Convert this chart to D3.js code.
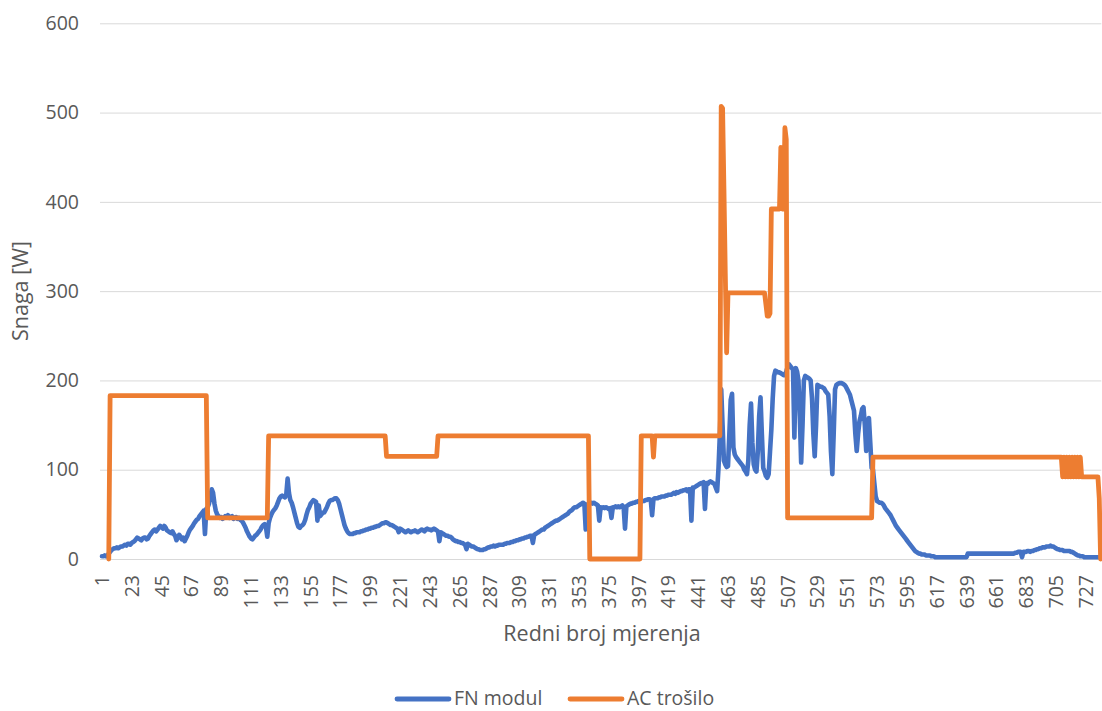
<!DOCTYPE html>
<html>
<head>
<meta charset="utf-8">
<script src="https://cdn.jsdelivr.net/npm/d3@7"></script>
<style>
  html, body { margin: 0; padding: 0; background: #ffffff; }
  svg { display: block; }
  text { font-family: "Open Sans", "Noto Sans", sans-serif; fill: #595959; }
</style>
</head>
<body>
<svg id="chart" width="1102" height="711"></svg>
<script>
// ---------- DATA ----------
const seriesNames = ["FN modul", "AC trošilo"];
const seriesColors = ["#4472C4", "#ED7D31"];

// FN modul (W), one value per measurement 1..738
const fnModul = [
  3,3,4,3,4,6,8,10,11,12,
  12,13,12,13,14,14,15,16,15,17,
  17,16,18,19,20,22,24,23,22,21,
  23,24,24,22,23,26,28,30,32,33,
  31,33,35,37,36,34,37,35,32,31,
  30,29,31,28,26,21,24,27,25,22,
  24,20,23,26,30,33,35,37,40,42,
  44,45,48,50,52,54,28,56,58,62,
  70,78,74,62,54,50,48,46,47,45,
  46,48,47,49,46,47,48,45,46,47,
  45,46,44,43,41,38,35,31,28,25,
  23,22,24,26,27,29,31,33,36,38,
  39,36,25,40,46,50,53,55,57,60,
  64,68,70,71,70,69,72,90,74,66,
  63,58,52,46,40,36,35,37,38,40,
  44,50,55,58,62,64,66,65,64,43,
  60,48,50,52,52,55,58,62,65,66,
  66,67,68,68,66,62,56,50,44,38,
  34,31,29,28,28,28,29,29,30,30,
  30,31,31,32,32,33,33,34,34,35,
  35,36,36,37,37,38,39,40,40,41,
  41,40,39,38,38,37,36,35,34,30,
  34,33,32,31,30,31,32,31,30,31,
  31,32,31,30,31,32,33,32,31,33,
  34,33,33,32,33,34,33,32,31,20,
  30,29,28,27,26,26,25,25,24,22,
  21,20,20,19,19,18,18,17,16,11,
  17,16,15,14,14,13,12,11,11,10,
  10,10,11,11,12,13,13,14,14,15,
  14,15,15,16,16,16,16,17,17,18,
  18,18,19,19,20,20,21,21,22,22,
  23,23,24,24,25,25,26,26,18,27,
  28,29,30,31,32,33,33,35,36,37,
  38,39,40,41,42,43,43,44,45,46,
  47,48,49,50,51,53,54,55,57,58,
  58,59,60,61,62,63,62,33,60,62,
  63,63,62,63,62,61,60,43,58,57,
  58,57,58,57,56,57,46,58,58,59,
  58,59,58,59,60,58,34,59,60,61,
  62,62,63,63,64,64,65,65,64,65,
  65,66,66,67,67,66,49,67,68,68,
  68,69,69,70,70,70,71,71,72,72,
  72,73,74,73,75,74,75,76,76,77,
  77,78,76,78,78,43,80,80,81,82,
  83,84,85,85,86,56,85,84,86,87,
  86,85,84,80,76,102,140,190,150,110,
  106,103,104,140,178,185,125,117,114,112,
  110,108,106,104,100,98,95,110,150,174,
  130,106,100,98,120,160,181,140,102,98,
  93,91,95,120,145,180,205,211,210,209,
  209,208,207,206,206,210,215,218,216,214,
  212,136,214,210,200,160,108,150,200,205,
  204,203,202,200,180,140,115,150,195,194,
  193,193,192,191,188,186,184,160,120,95,
  140,190,195,196,197,197,197,196,195,193,
  190,187,184,178,172,166,140,121,140,154,
  160,168,170,150,121,140,158,130,102,100,
  85,70,65,64,63,63,62,60,57,55,
  53,51,49,46,43,40,37,35,33,31,
  29,27,25,23,21,19,17,15,13,11,
  9,8,7,6,6,5,5,5,4,4,
  4,4,3,3,3,2,2,2,2,2,
  2,2,2,2,2,2,2,2,2,2,
  2,2,2,2,2,2,2,2,2,6,
  6,6,6,6,6,6,6,6,6,6,
  6,6,6,6,6,6,6,6,6,6,
  6,6,6,6,6,6,6,6,6,6,
  6,6,6,6,7,7,8,8,8,2,
  8,8,8,9,9,8,9,9,10,10,
  11,11,12,12,13,13,13,14,14,14,
  15,14,14,13,12,11,11,10,10,10,
  9,9,9,9,9,8,8,7,6,5,
  4,4,3,3,3,2,2,2,2,2,
  2,2,2,2,2,2,2,2
];

// AC trošilo (W): stepped load, stored as runs (level, number of measurements)
const acLevels = [null, 0, 183, 46, 138, 115, 138, 0, 138, 114, 138,
  507, 505, 415, 320, 231, 298, 285, 272, 275, 392, 461, 392, 483, 470, 46, 114,
  92, 114, 92, 114, 92, 114, 92, 114, 92, 114, 92, 114, 92, 114, 92,
  92, 68, 0];
const acCounts = [5, 1, 72, 45, 87, 38, 112, 38, 9, 1, 49,
  1, 1, 1, 1, 1, 28, 1, 2, 1, 7, 1, 2, 1, 1, 63, 140,
  1, 1, 1, 1, 1, 1, 1, 1, 1, 1, 1, 1, 1, 1, 1,
  12, 1, 1];

const yTicks = [0, 100, 200, 300, 400, 500, 600];
const xTickLabels = [1, 23, 45, 67, 89, 111, 133, 155, 177, 199, 221, 243, 265, 287,
  309, 331, 353, 375, 397, 419, 441, 463, 485, 507, 529, 551, 573, 595, 617, 639,
  661, 683, 705, 727];
const xTitle = "Redni broj mjerenja";
const yTitle = "Snaga [W]";

// ---------- BUILD ----------
const acTrosilo = [];
acLevels.forEach((v, k) => { for (let j = 0; j < acCounts[k]; j++) acTrosilo.push(v); });
const categories = fnModul.map((_, i) => i + 1);

const svg = d3.select("#chart");
const plotLeft = 101.3, plotRight = 1101.3, plotTop = 23.3, plotBottom = 559;

const x = d3.scaleBand().domain(categories).range([plotLeft, plotRight]).padding(0);
const xc = c => x(c) + x.bandwidth() / 2;
const y = d3.scaleLinear().domain([0, 600]).range([plotBottom, plotTop]);

// gridlines + y labels
const yAxis = d3.axisLeft(y).tickValues(yTicks).tickSize(-(plotRight - 100)).tickPadding(21);
const gy = svg.append("g").attr("transform", "translate(100,0)").call(yAxis);
gy.select(".domain").remove();
gy.selectAll(".tick line").attr("stroke", "#d9d9d9").attr("stroke-width", 1);
gy.selectAll(".tick text").style("font-size", "19.5px").style("fill", "#595959");

// x labels
const xAxis = d3.axisBottom(x).tickValues(xTickLabels).tickSize(0);
const gx = svg.append("g").attr("transform", `translate(0,${plotBottom})`).call(xAxis);
gx.select(".domain").remove();
gx.selectAll(".tick text")
  .attr("transform", "rotate(-90)")
  .attr("text-anchor", "end")
  .attr("x", -16).attr("y", 0).attr("dy", "0.36em")
  .style("font-size", "19.5px").style("fill", "#595959");

// lines
const lineGen = d3.line()
  .defined(d => d.v !== null && d.v !== undefined)
  .x(d => xc(d.c)).y(d => y(d.v))
  .curve(d3.curveLinear);

const fnData = categories.map((c, i) => ({ c, v: fnModul[i] }));
const acData = categories.map((c, i) => ({ c, v: acTrosilo[i] }));

svg.append("path").datum(fnData).attr("d", lineGen)
  .attr("fill", "none").attr("stroke", seriesColors[0]).attr("stroke-width", 4.6)
  .attr("stroke-linejoin", "round").attr("stroke-linecap", "round");
svg.append("path").datum(acData).attr("d", lineGen)
  .attr("fill", "none").attr("stroke", seriesColors[1]).attr("stroke-width", 4.8)
  .attr("stroke-linejoin", "round").attr("stroke-linecap", "round");

// axis titles
svg.append("text").attr("x", 602).attr("y", 641).attr("text-anchor", "middle")
  .style("font-size", "21.5px").text(xTitle);
svg.append("text").attr("transform", "translate(28,291) rotate(-90)").attr("text-anchor", "middle")
  .style("font-size", "21.5px").text(yTitle);

// legend
const legendItems = [
  { name: seriesNames[0], color: seriesColors[0], x0: 397 },
  { name: seriesNames[1], color: seriesColors[1], x0: 570 }
];
const lg = svg.append("g");
legendItems.forEach(it => {
  lg.append("line").attr("x1", it.x0).attr("x2", it.x0 + 52).attr("y1", 699).attr("y2", 699)
    .attr("stroke", it.color).attr("stroke-width", 4.8).attr("stroke-linecap", "round");
  lg.append("text").attr("x", it.x0 + 57).attr("y", 705).style("font-size", "19.5px").text(it.name);
});
</script>
</body>
</html>
